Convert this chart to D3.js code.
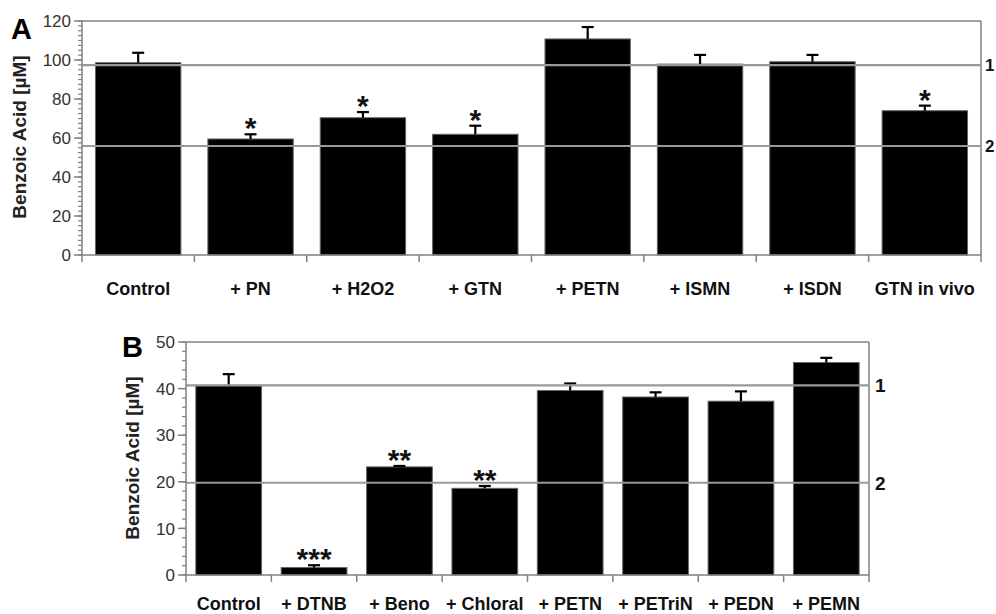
<!DOCTYPE html>
<html><head><meta charset="utf-8">
<script src="https://cdn.jsdelivr.net/npm/d3@7"></script>
<style>
body{margin:0;background:#fff;}
text{font-family:"Liberation Sans",Arial,sans-serif;}
</style></head>
<body>
<svg id="c" width="996" height="614"></svg>
<script>
// Panel A data
const catsA = ["Control","+ PN","+ H2O2","+ GTN","+ PETN","+ ISMN","+ ISDN","GTN in vivo"];
const valsA = [98.6, 59.5, 70.4, 61.9, 110.8, 97.9, 99.1, 74.0];
const errA  = [5.1, 2.4, 2.9, 4.4, 6.1, 4.7, 3.5, 2.6];
const sigA  = ["", "*", "*", "*", "", "", "", "*"];
const refA  = [97.4, 55.9];
const refLabelsA = ["1","2"];
const ticksA = [0,20,40,60,80,100,120];

// Panel B data
const catsB = ["Control","+ DTNB","+ Beno","+ Chloral","+ PETN","+ PETriN","+ PEDN","+ PEMN"];
const valsB = [40.7, 1.6, 23.2, 18.6, 39.6, 38.2, 37.3, 45.6];
const errB  = [2.4, 0.5, 0.2, 0.5, 1.5, 1.0, 2.1, 1.0];
const sigB  = ["", "***", "**", "**", "", "", "", ""];
const refB  = [40.7, 19.8];
const refLabelsB = ["1","2"];
const ticksB = [0,10,20,30,40,50];

const svg = d3.select("#c");
const axisCol = "#808080";

function panel(o){
  const g = svg.append("g");
  const x = d3.scaleBand().domain(o.cats).range([o.x0,o.x1]).paddingInner(o.pad).paddingOuter(o.pad/2);
  const y = d3.scaleLinear().domain([0,o.max]).range([o.y1,o.y0]);
  // frame top & right
  g.append("line").attr("x1",o.x0).attr("x2",o.x1).attr("y1",o.y0).attr("y2",o.y0).attr("stroke",axisCol).attr("stroke-width",1.5);
  g.append("line").attr("x1",o.x1).attr("x2",o.x1).attr("y1",o.y0).attr("y2",o.y1).attr("stroke",axisCol).attr("stroke-width",1.5);
  // bars
  g.selectAll("rect.bar").data(o.vals).join("rect")
    .attr("x",(d,i)=>x(o.cats[i])).attr("width",x.bandwidth())
    .attr("y",d=>y(d)).attr("height",d=>y(0)-y(d))
    .attr("fill","#000").attr("stroke","#666").attr("stroke-width",1);
  // error bars
  const cx = i=>x(o.cats[i])+x.bandwidth()/2;
  g.selectAll("line.ev").data(o.vals).join("line")
    .attr("x1",(d,i)=>cx(i)).attr("x2",(d,i)=>cx(i))
    .attr("y1",d=>y(d)).attr("y2",(d,i)=>y(d+o.err[i]))
    .attr("stroke","#000").attr("stroke-width",2.2);
  g.selectAll("line.ec").data(o.vals).join("line")
    .attr("x1",(d,i)=>cx(i)-6).attr("x2",(d,i)=>cx(i)+6)
    .attr("y1",(d,i)=>y(d+o.err[i])).attr("y2",(d,i)=>y(d+o.err[i]))
    .attr("stroke","#000").attr("stroke-width",2.2);
  // significance
  g.selectAll("text.sig").data(o.vals).join("text")
    .attr("x",(d,i)=>cx(i)).attr("y",(d,i)=>y(d+o.err[i])+4)
    .attr("text-anchor","middle").attr("font-weight","bold").attr("font-size",30)
    .attr("fill","#111").text((d,i)=>o.sig[i]);
  // reference lines
  o.refs.forEach((r,i)=>{
    g.append("line").attr("x1",o.x0).attr("x2",o.x1).attr("y1",y(r)).attr("y2",y(r))
      .attr("stroke","#999").attr("stroke-width",2.2);
    g.append("text").attr("x",o.x1+o.refDx).attr("y",y(r)).attr("dy","0.36em")
      .attr("font-weight","bold").attr("font-size",o.refFont).attr("fill","#111").text(o.refLabels[i]);
  });
  // y axis
  const minor = d3.range(0,o.max+1e-9,o.minorStep);
  const ya = g.append("g");
  ya.append("line").attr("x1",o.x0).attr("x2",o.x0).attr("y1",o.y0).attr("y2",o.y1).attr("stroke",axisCol).attr("stroke-width",1.5);
  ya.selectAll("line.mn").data(minor).join("line")
    .attr("x1",o.x0-4).attr("x2",o.x0).attr("y1",d=>y(d)).attr("y2",d=>y(d)).attr("stroke",axisCol).attr("stroke-width",1.2);
  ya.selectAll("line.mj").data(o.ticks).join("line")
    .attr("x1",o.x0-8).attr("x2",o.x0).attr("y1",d=>y(d)).attr("y2",d=>y(d)).attr("stroke",axisCol).attr("stroke-width",1.5);
  ya.selectAll("text").data(o.ticks).join("text")
    .attr("x",o.x0-11).attr("y",d=>y(d)).attr("dy","0.36em").attr("text-anchor","end")
    .attr("font-size",17).attr("fill","#333").text(d=>d);
  // x axis
  g.append("line").attr("x1",o.x0).attr("x2",o.x1).attr("y1",o.y1).attr("y2",o.y1).attr("stroke",axisCol).attr("stroke-width",1.5);
  const bounds = o.cats.map(c=>x(c)-x.step()*x.paddingInner()/2).concat([o.x1]);
  g.selectAll("line.xt").data(bounds).join("line")
    .attr("x1",d=>d).attr("x2",d=>d).attr("y1",o.y1).attr("y2",o.y1+7).attr("stroke",axisCol).attr("stroke-width",1.5);
  g.selectAll("text.xl").data(o.cats).join("text")
    .attr("x",d=>x(d)+x.bandwidth()/2).attr("y",o.labelY).attr("text-anchor","middle")
    .attr("font-weight","bold").attr("font-size",o.catFont).attr("fill","#111").text(d=>d);
  // y title
  g.append("text").attr("transform",`translate(${o.titleX},${o.titleY}) rotate(-90)`)
    .attr("text-anchor","middle").attr("dy","0.35em").attr("font-weight","bold").attr("font-size",19)
    .attr("fill","#222").text("Benzoic Acid [µM]");
  // panel letter
  g.append("text").attr("x",o.letterX).attr("y",o.letterY).attr("font-weight","bold")
    .attr("font-size",29).attr("fill","#000").text(o.letter);
}

panel({cats:catsA,vals:valsA,err:errA,sig:sigA,refs:refA,refLabels:refLabelsA,ticks:ticksA,
  max:120,minorStep:2.5,x0:82,x1:981,y0:21,y1:255,pad:0.24,labelY:295,catFont:18,
  refDx:4,refFont:17,
  titleX:19,titleY:137,letter:"A",letterX:11,letterY:39});
panel({cats:catsB,vals:valsB,err:errB,sig:sigB,refs:refB,refLabels:refLabelsB,ticks:ticksB,
  max:50,minorStep:2,x0:186,x1:869,y0:342,y1:575,pad:0.23,labelY:610,catFont:18,
  refDx:6,refFont:19,
  titleX:132,titleY:458,letter:"B",letterX:122,letterY:357});
</script>
</body></html>
